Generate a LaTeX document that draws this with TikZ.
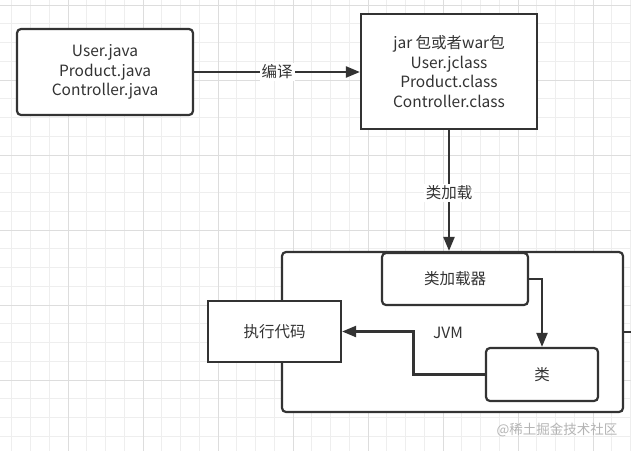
\documentclass[tikz,border=0pt]{standalone}
\usepackage{fontspec}
\setmainfont{Noto Sans CJK SC}
\usetikzlibrary{positioning,calc,arrows.meta}
\definecolor{ink}{HTML}{333333}
\definecolor{gridlight}{HTML}{EEEEEE}
\definecolor{griddark}{HTML}{DDDDDD}
\definecolor{mark}{HTML}{B4B4B4}

\begin{document}
\begin{tikzpicture}[x=1pt,y=-1pt,
        font=\fontsize{15.5}{19.7}\selectfont,
        box/.style={draw=ink, line width=2.2pt, fill=white, text=ink, align=center, inner sep=0pt},
        rbox/.style={box, rounded corners=4pt},
        flow/.style={draw=ink, line width=2.2pt, -{Triangle[length=14pt,width=11pt]}},
        lbl/.style={fill=white, text=ink, inner sep=2pt}]
        % Background grid
        \useasboundingbox[fill=white] (0,0) rectangle (631,451);
        \foreach \i in {0,...,33}
            \draw[gridlight, line width=1pt] ({11.75+18.75*\i},0) -- ++(0,451);
        \foreach \j in {0,...,23}
            \draw[gridlight, line width=1pt] (0,{5+18.75*\j}) -- ++(631,0);
        \foreach \i in {1,...,8}
            \draw[griddark, line width=1pt] ({-7+75*\i},0) -- ++(0,451);
        \foreach \j in {0,...,5}
            \draw[griddark, line width=1pt] (0,{5+75*\j}) -- ++(631,0);

        % Sources and archive
        \node[rbox, minimum width=176pt, minimum height=86pt] (src) at (105,72)
            {User.java\\Product.java\\Controller.java};
        \node[box, minimum width=176pt, minimum height=115pt] (jar) at (449,71.5)
            {jar 包或者war包\\User.jclass\\Product.class\\Controller.class};

        % JVM
        \node[rbox, minimum width=341pt, minimum height=160pt] (jvm) at (452.5,332) {};
        \node[text=ink] (jvmlabel) at (448,333) {JVM};
        \node[rbox, minimum width=146pt, minimum height=52pt] (loader) at (455,279) {类加载器};
        \node[box, minimum width=133pt, minimum height=61pt] (exec) at (274.5,331.5) {执行代码};
        \node[rbox, minimum width=112pt, minimum height=53pt] (cls) at (542,374.5) {类};
        \coordinate (offright) at (640,332);

        % Connectors
        \draw[flow] (src.east) -- node[lbl] {编译} (src.east -| jar.west);
        \draw[flow] (jar.south) -- node[lbl, pos=0.52] {类加载} (jar.south |- jvm.north);
        \draw[flow] (loader.east) -| (cls.north);
        \draw[flow] (cls.west) -| ($(exec.east)!.5!(cls.west)$) |- (exec.east);
        \draw[draw=ink, line width=2.2pt] (jvm.east) -- (offright);

        % Watermark
        \node[text=mark, font=\fontsize{13.5}{15}\selectfont] (watermark) at (557,430) {@稀土掘金技术社区};
    \end{tikzpicture}
\end{document}
